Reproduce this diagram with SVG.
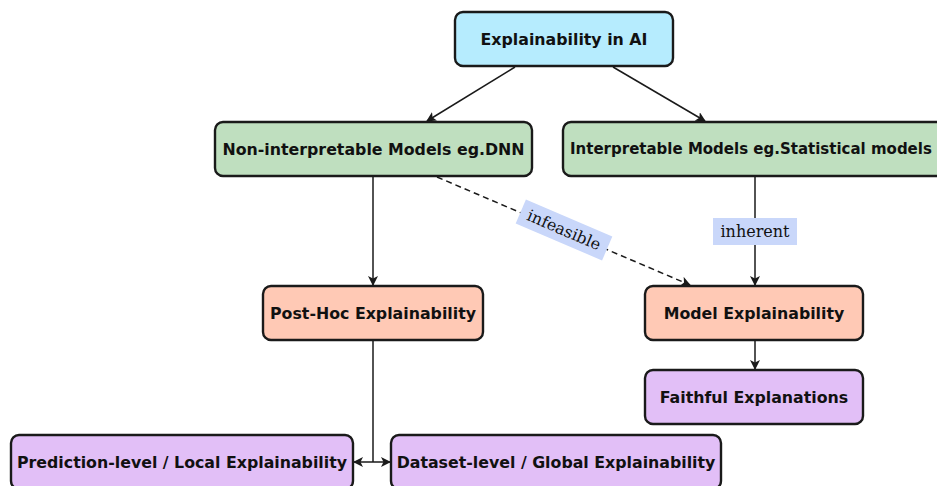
<svg xmlns="http://www.w3.org/2000/svg" width="937" height="486" viewBox="0 0 937 486">
<style>
.box{stroke:#1a1a1a;stroke-width:2.4}
.t{font-family:"DejaVu Sans",sans-serif;font-weight:bold;font-size:15.8px;fill:#111;text-anchor:middle;dominant-baseline:central}
.c{stroke:#1a1a1a;stroke-width:1.5;fill:none}
.lbl{font-family:"DejaVu Serif","Liberation Serif",serif;font-size:16px;fill:#111;text-anchor:middle;dominant-baseline:central}
</style>
<defs>
<marker id="ah" viewBox="0 0 10 10" refX="9" refY="5" markerWidth="10" markerHeight="10" markerUnits="userSpaceOnUse" orient="auto-start-reverse">
<path d="M0,0 L10,5 L0,10 L2.5,5 Z" fill="#1a1a1a"/>
</marker>
</defs>
<rect width="937" height="486" fill="#fff"/>
<g id="connectors">
<line class="c" x1="515" y1="67" x2="427" y2="121" marker-end="url(#ah)"/>
<line class="c" x1="613" y1="67" x2="705" y2="121" marker-end="url(#ah)"/>
<line class="c" x1="373" y1="177" x2="373" y2="285" marker-end="url(#ah)"/>
<line class="c" x1="437" y1="177" x2="690" y2="285" stroke-dasharray="6,4" marker-end="url(#ah)"/>
<line class="c" x1="755" y1="177" x2="755" y2="285" marker-end="url(#ah)"/>
<line class="c" x1="755" y1="341" x2="755" y2="369" marker-end="url(#ah)"/>
<polyline class="c" points="373,341 373,462"/>
<line class="c" x1="354" y1="462" x2="390" y2="462" marker-start="url(#ah)" marker-end="url(#ah)"/>
<g transform="translate(564,230) rotate(23.2)">
<rect x="-47" y="-13" width="94" height="26" fill="#c9d7fa"/>
<text class="lbl" x="0" y="0">infeasible</text>
</g>
<rect x="713" y="218" width="84" height="27" fill="#c9d7fa"/>
<text class="lbl" x="755" y="231.5">inherent</text>
</g>
<g id="n-root">
<rect class="box" x="455" y="12" width="218" height="54" rx="8" fill="#b6ecfe"/>
<text class="t" x="564" y="39">Explainability in AI</text>
</g>
<g id="n-noninterp">
<rect class="box" x="215" y="122" width="317" height="54" rx="8" fill="#bfdfbf"/>
<text class="t" x="373.5" y="149">Non-interpretable Models eg.DNN</text>
</g>
<g id="n-interp">
<rect class="box" x="563" y="122" width="400" height="54" rx="8" fill="#bfdfbf"/>
<text class="t" x="570" y="149" style="text-anchor:start;font-size:15px">Interpretable Models eg.Statistical models</text>
</g>
<g id="n-posthoc">
<rect class="box" x="263" y="286" width="220" height="54" rx="8" fill="#ffc9b5"/>
<text class="t" x="373" y="313">Post-Hoc Explainability</text>
</g>
<g id="n-model">
<rect class="box" x="645" y="286" width="218" height="54" rx="8" fill="#ffc9b5"/>
<text class="t" x="754" y="313">Model Explainability</text>
</g>
<g id="n-faithful">
<rect class="box" x="645" y="370" width="218" height="54" rx="8" fill="#e2bff7"/>
<text class="t" x="754" y="397">Faithful Explanations</text>
</g>
<g id="n-local">
<rect class="box" x="11" y="435" width="342" height="54" rx="8" fill="#e2bff7"/>
<text class="t" x="182" y="462">Prediction-level / Local Explainability</text>
</g>
<g id="n-global">
<rect class="box" x="391" y="435" width="330" height="54" rx="8" fill="#e2bff7"/>
<text class="t" x="556" y="462">Dataset-level / Global Explainability</text>
</g>
</svg>
